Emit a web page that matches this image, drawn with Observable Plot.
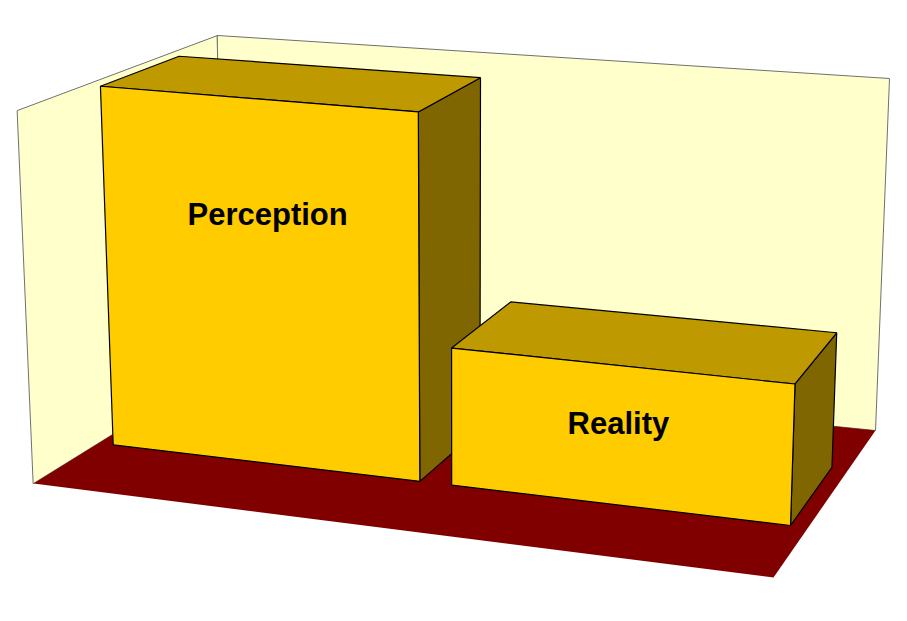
<!DOCTYPE html>
<html>
<head>
<meta charset="utf-8">
<script src="https://cdn.jsdelivr.net/npm/d3@7"></script>
<script src="https://cdn.jsdelivr.net/npm/@observablehq/plot@0.6"></script>
<style>
  html, body { margin: 0; padding: 0; background: #fff; }
  #chart svg { display: block; }
</style>
</head>
<body>
<div id="chart"></div>
<script>
const categories = ['Perception', 'Reality']
const values = [100, 37]            // bar heights, out of 100 on the value axis
const labelLevel = [0.684, 0.58]    // label height on each front face, share of the bar
const labelAcross = [0.53, 0.5]     // label centre across each front face

// picture corners of the chart box: key = width, depth, height (0 = left / front / floor)
const corners = {
  '000': [33, 483], '100': [773, 577], '010': [225, 364], '110': [875, 430],
  '001': [17, 110], '101': [785, 178], '011': [217, 35], '111': [889, 78],
}

// a bit of perspective: far side shrinks
const warpX = t => 0.905 * t / (1 - 0.095 * t)
const warpZ = s => 1.2 * s / (1 + 0.2 * s)
const lerp = (a, b, k) => a + (b - a) * k

function project(t, s, v) {
  const u = warpX(t), w = warpZ(s)
  const c = key => corners[key]
  return [0, 1].map(d => {
    const plane = k => lerp(
      lerp(c('00' + k)[d], c('10' + k)[d], u),
      lerp(c('01' + k)[d], c('11' + k)[d], u), w)
    return lerp(plane(0), plane(1), v)
  })
}

const band = d3.scaleBand(categories, [0, 1]).paddingInner(0.09).paddingOuter(0.045)
const level = d3.scaleLinear([0, 100], [0, 1])
const front = 0.3, back = 0.7

function face(id, fill, pts) {
  return pts.map(([t, s, v]) => {
    const [x, y] = project(t, s, v)
    return {id, fill, x, y}
  })
}

const walls = [
  ...face('left', '#FFFFCC', [[0, 0, 0], [0, 1, 0], [0, 1, 1], [0, 0, 1]]),
  ...face('back', '#FFFFCC', [[0, 1, 0], [1, 1, 0], [1, 1, 1], [0, 1, 1]]),
]
const floor = face('floor', '#800000', [[0, 0, 0], [1, 0, 0], [1, 1, 0], [0, 1, 0]])

const bars = categories.map((cat, i) => {
  const t0 = band(cat), t1 = t0 + band.bandwidth(), h = level(values[i])
  return [
    ...face(cat + '-side', '#806600', [[t1, front, 0], [t1, back, 0], [t1, back, h], [t1, front, h]]),
    ...face(cat + '-top', '#BF9900', [[t0, front, h], [t1, front, h], [t1, back, h], [t0, back, h]]),
    ...face(cat + '-front', '#FFCC00', [[t0, front, 0], [t1, front, 0], [t1, front, h], [t0, front, h]]),
  ]
})

const labels = categories.map((cat, i) => {
  const t = band(cat) + band.bandwidth() * labelAcross[i]
  const [x, y] = project(t, front, level(values[i]) * labelLevel[i])
  return {name: cat, x, y}
})

const chart = Plot.plot({
  width: 907,
  height: 621,
  margin: 0,
  x: {domain: [0, 907], range: [0, 907], axis: null},
  y: {domain: [0, 621], range: [0, 621], axis: null},
  color: {type: 'identity'},
  marks: [
    Plot.line(walls, {x: 'x', y: 'y', z: 'id', fill: 'fill', stroke: '#707070', strokeWidth: 1, curve: 'linear-closed'}),
    Plot.line(floor, {x: 'x', y: 'y', z: 'id', fill: 'fill', stroke: 'none', curve: 'linear-closed'}),
    ...bars.map(b => Plot.line(b, {x: 'x', y: 'y', z: 'id', fill: 'fill', stroke: '#000', strokeWidth: 1.2, strokeLinejoin: 'miter', curve: 'linear-closed'})),
    Plot.text(labels, {x: 'x', y: 'y', text: 'name', fontSize: 31, fontWeight: 'bold',
      fontFamily: 'Liberation Sans, Arial, sans-serif', fill: '#000', lineAnchor: 'middle'}),
  ],
})

d3.select('#chart').append(() => chart)
</script>
</body>
</html>
